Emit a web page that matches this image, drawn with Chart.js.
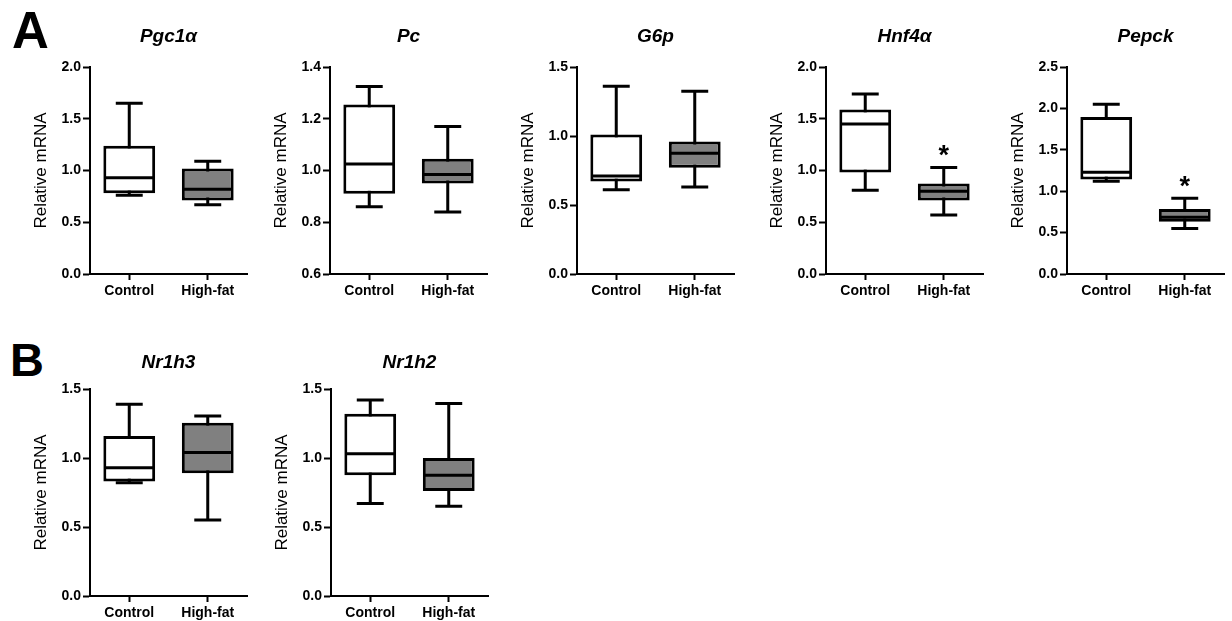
<!DOCTYPE html>
<html>
<head>
<meta charset="utf-8">
<script src="https://cdn.jsdelivr.net/npm/chart.js@4.4.1/dist/chart.umd.min.js"></script>
<style>
  html, body { margin: 0; padding: 0; background: #fff; overflow: hidden; }
  #page { position: relative; width: 1232px; height: 621px; }
  canvas { position: absolute; }
  .letter { position: absolute; font-family: 'Liberation Sans', Arial, sans-serif; font-weight: bold; color: #000; }
</style>
</head>
<body>
<div id="page">
  <div class="letter" style="left:12px; top:5px; font-size:51px; line-height:51px;">A</div>
  <div class="letter" style="left:10px; top:336px; font-size:47px; line-height:47px;">B</div>
</div>
<script>
// one entry per panel, in reading order
const genes = ['Pgc1\u03b1', 'Pc', 'G6p', 'Hnf4\u03b1', 'Pepck', 'Nr1h3', 'Nr1h2'];
const groups = ['Control', 'High-fat'];

// box plot values per panel: [Control, High-fat]
const whiskerLow = [[0.76, 0.67], [0.86, 0.84], [0.61, 0.63], [0.81, 0.57], [1.12, 0.55], [0.82, 0.55], [0.67, 0.65]];
const q1 = [[0.78, 0.71], [0.91, 0.95], [0.67, 0.77], [0.98, 0.71], [1.14, 0.63], [0.83, 0.89], [0.875, 0.76]];
const median = [[0.93, 0.82], [1.025, 0.985], [0.71, 0.875], [1.45, 0.80], [1.23, 0.685], [0.93, 1.04], [1.03, 0.875]];
const q3 = [[1.24, 1.02], [1.255, 1.045], [1.01, 0.96], [1.59, 0.875], [1.895, 0.785], [1.16, 1.255], [1.32, 1.0]];
const whiskerHigh = [[1.65, 1.09], [1.325, 1.17], [1.36, 1.325], [1.74, 1.03], [2.05, 0.915], [1.39, 1.305], [1.42, 1.395]];
const significant = [[false, false], [false, false], [false, false], [false, true], [false, true], [false, false], [false, false]];

// y axis ranges per panel
const yMin = [0, 0.6, 0, 0, 0, 0, 0];
const yMax = [2.0, 1.4, 1.5, 2.0, 2.5, 1.5, 1.5];
const yStep = [0.5, 0.2, 0.5, 0.5, 0.5, 0.5, 0.5];

// canvas placement (left, top) and gap under the title, per panel
const panelLeft = [0, 240, 487, 736, 977, 0, 241];
const panelTop = [0, 0, 0, 0, 0, 322, 322];
const titleShift = [0, 0, 0, 0, 0, 4, 4];

const FONT = "'Liberation Sans', Arial, sans-serif";
Chart.defaults.font.family = FONT;
Chart.defaults.color = '#000';

const whiskers = {
  id: 'whiskers',
  beforeDatasetsDraw(chart, args, opts) {
    const p = opts.panel;
    const y = chart.scales.y;
    const ctx = chart.ctx;
    const meta = chart.getDatasetMeta(0);
    ctx.save();
    ctx.strokeStyle = '#000';
    ctx.lineWidth = 3;
    ctx.lineCap = 'butt';
    meta.data.forEach((el, j) => {
      const yl = y.getPixelForValue(whiskerLow[p][j]);
      const yh = y.getPixelForValue(whiskerHigh[p][j]);
      const cap = el.width * 0.26;
      ctx.beginPath();
      ctx.moveTo(el.x, yl);
      ctx.lineTo(el.x, yh);
      ctx.moveTo(el.x - cap, yl);
      ctx.lineTo(el.x + cap, yl);
      ctx.moveTo(el.x - cap, yh);
      ctx.lineTo(el.x + cap, yh);
      ctx.stroke();
    });
    ctx.restore();
  },
  afterDatasetsDraw(chart, args, opts) {
    const p = opts.panel;
    const y = chart.scales.y;
    const ctx = chart.ctx;
    const meta = chart.getDatasetMeta(0);
    ctx.save();
    ctx.strokeStyle = '#000';
    ctx.lineWidth = 3;
    meta.data.forEach((el, j) => {
      const ym = y.getPixelForValue(median[p][j]);
      const half = el.width / 2;
      ctx.beginPath();
      ctx.moveTo(el.x - half + 1, ym);
      ctx.lineTo(el.x + half - 1, ym);
      ctx.stroke();
      if (significant[p][j]) {
        ctx.fillStyle = '#000';
        ctx.font = 'bold 27px ' + FONT;
        ctx.textAlign = 'center';
        ctx.textBaseline = 'alphabetic';
        ctx.fillText('*', el.x, y.getPixelForValue(whiskerHigh[p][j]) - 3);
      }
    });
    ctx.restore();
  }
};

const page = document.getElementById('page');

genes.forEach((gene, p) => {
  const canvas = document.createElement('canvas');
  canvas.width = 250;
  canvas.height = 310;
  canvas.style.left = panelLeft[p] + 'px';
  canvas.style.top = panelTop[p] + 'px';
  canvas.style.width = '250px';
  canvas.style.height = '310px';
  page.appendChild(canvas);

  new Chart(canvas.getContext('2d'), {
    type: 'bar',
    data: {
      labels: groups,
      datasets: [{
        data: q1[p].map((v, j) => [v, q3[p][j]]),
        backgroundColor: ['#ffffff', '#808080'],
        borderColor: '#000',
        borderWidth: 3,
        borderSkipped: false,
        barPercentage: 0.66,
        categoryPercentage: 1.0
      }]
    },
    options: {
      responsive: false,
      animation: false,
      devicePixelRatio: 1,
      layout: { padding: { top: 25 + titleShift[p], right: 3, bottom: 0, left: 0 } },
      scales: {
        x: {
          afterFit: (axis) => { axis.height = 36; },
          border: { display: true, color: '#000', width: 2 },
          grid: { display: true, offset: false, drawOnChartArea: false, drawTicks: true, tickLength: 6, tickColor: '#000', tickWidth: 2, color: '#000' },
          ticks: { color: '#000', font: { size: 14, weight: 'bold' }, padding: 3 }
        },
        y: {
          min: yMin[p],
          max: yMax[p],
          afterFit: (axis) => { axis.width = 90; },
          border: { display: true, color: '#000', width: 2 },
          grid: { display: true, drawOnChartArea: false, drawTicks: true, tickLength: 7, tickColor: '#000', tickWidth: 2, color: '#000' },
          ticks: {
            stepSize: yStep[p],
            color: '#000',
            font: { size: 14, weight: 'bold' },
            padding: 2,
            callback: (v) => Number(v).toFixed(1)
          },
          title: {
            display: true,
            text: 'Relative mRNA',
            color: '#000',
            font: { size: 17, weight: 'normal' },
            padding: { top: 31, bottom: 0 }
          }
        }
      },
      plugins: {
        legend: { display: false },
        tooltip: { enabled: false },
        title: {
          display: true,
          text: gene,
          fullSize: false,
          color: '#000',
          font: { size: 19, weight: 'bold', style: 'italic' },
          padding: { top: 0, bottom: 19.2 - titleShift[p] }
        },
        whiskers: { panel: p }
      }
    },
    plugins: [whiskers]
  });
});
</script>
</body>
</html>
